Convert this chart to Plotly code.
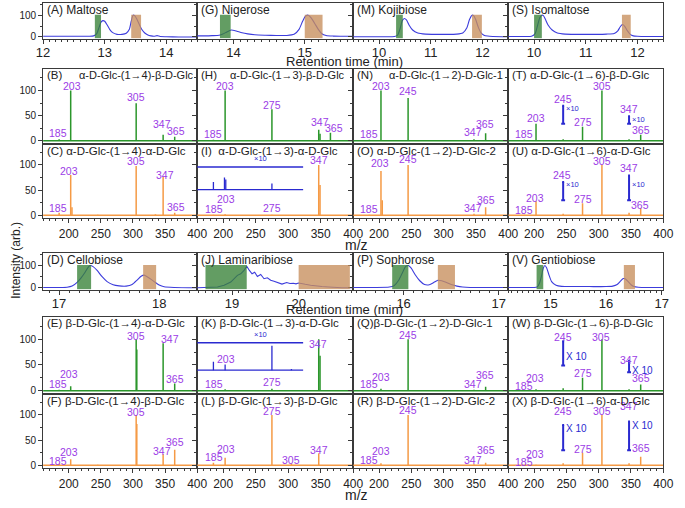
import plotly.graph_objects as go

W, H = 685, 508
FONT = "Liberation Sans, Arial, sans-serif"
PURPLE = "#9b3ce6"
GREEN = "#2b962b"
ORANGE = "#f59a45"
BLUE = "#2a2ad0"
CHROM = "#3c3cdc"
AXC = "#3a3a3a"

# ---------------- chromatogram data (time in min, intensity %) ----------------
maltose_t = [12.0, 12.2, 12.4, 12.6, 12.75, 12.82, 12.87, 12.91, 12.94, 12.97, 13.0, 13.04, 13.08, 13.13, 13.2,
             13.28, 13.35, 13.4, 13.43, 13.46, 13.49, 13.52, 13.56, 13.6, 13.65, 13.7, 13.75, 13.8, 13.85, 13.9,
             14.0, 14.2, 14.5]
maltose_i = [3, 3, 3, 3, 3, 5, 15, 45, 68, 75, 72, 55, 35, 20, 12,
             12, 17, 35, 72, 100, 97, 82, 58, 35, 18, 9, 5, 3, 6, 2,
             1, 0, 0]
nigerose_t = [13.49, 13.6, 13.7, 13.8, 13.85, 13.9, 13.94, 13.97, 14.01, 14.06, 14.12, 14.2, 14.3, 14.45, 14.6,
              14.75, 14.85, 14.92, 14.97, 15.01, 15.05, 15.09, 15.14, 15.19, 15.24, 15.3, 15.4, 15.5, 15.68]
nigerose_i = [5, 5, 6, 8, 13, 22, 29, 32, 30, 25, 19, 14, 10, 8, 7,
              7, 12, 35, 72, 95, 100, 88, 62, 35, 15, 7, 4, 3, 3]
kojibiose_t = [9.5, 9.8, 10.1, 10.3, 10.36, 10.41, 10.45, 10.49, 10.53, 10.58, 10.65, 10.75, 10.9, 11.1,
               11.3, 11.5, 11.62, 11.7, 11.75, 11.8, 11.83, 11.87, 11.92, 11.97, 12.03, 12.1, 12.2, 12.5]
kojibiose_i = [1, 1, 1, 2, 8, 40, 75, 85, 78, 55, 32, 18, 13, 12,
               12, 13, 18, 42, 80, 100, 98, 80, 45, 20, 8, 4, 2, 1]
isomaltose_t = [9.5, 9.8, 9.95, 10.02, 10.07, 10.11, 10.15, 10.18, 10.22, 10.27, 10.35, 10.45, 10.6, 10.8,
                11.0, 11.2, 11.4, 11.55, 11.62, 11.67, 11.71, 11.75, 11.8, 11.86, 11.92, 12.0, 12.2, 12.5]
isomaltose_i = [2, 2, 3, 15, 55, 88, 100, 98, 80, 55, 32, 18, 13, 12,
                12, 12, 13, 16, 28, 48, 57, 50, 30, 12, 5, 3, 2, 2]
cellobiose_t = [16.84, 17.0, 17.08, 17.13, 17.18, 17.22, 17.26, 17.29, 17.31, 17.34, 17.38, 17.43, 17.48, 17.54,
                17.6, 17.67, 17.73, 17.78, 17.82, 17.85, 17.88, 17.92, 17.96, 18.0, 18.05, 18.15, 18.38]
cellobiose_i = [2, 2, 3, 8, 25, 45, 70, 92, 100, 95, 78, 50, 28, 14,
                9, 8, 15, 35, 52, 57, 50, 38, 25, 13, 5, 2, 1]
laminaribiose_t = [18.475, 18.6, 18.78, 18.88, 18.98, 19.08, 19.13, 19.18, 19.22, 19.26, 19.3, 19.34, 19.38,
                   19.43, 19.48, 19.53, 19.58, 19.63, 19.68, 19.75, 19.82, 19.87, 19.92, 19.96, 20.0, 20.05,
                   20.1, 20.18, 20.25, 20.35, 20.45, 20.55, 20.65, 20.82]
laminaribiose_i = [1, 1, 4, 12, 26, 56, 63, 78, 97, 78, 63, 70, 51,
                   60, 41, 45, 34, 30, 24, 17, 24, 20, 21, 18, 22, 18,
                   16, 12, 9, 6, 4, 2, 1, 1]
sophorose_t = [15.47, 15.7, 15.85, 15.9, 15.95, 15.99, 16.02, 16.05, 16.08, 16.12, 16.17, 16.22, 16.27, 16.32,
               16.36, 16.4, 16.45, 16.5, 16.56, 16.62, 16.7, 16.85, 17.1]
sophorose_i = [2, 2, 4, 10, 35, 70, 95, 100, 88, 60, 32, 15, 14, 25,
               34, 32, 24, 15, 8, 4, 2, 2, 2]
gentiobiose_t = [14.24, 14.5, 14.7, 14.76, 14.8, 14.84, 14.87, 14.9, 14.93, 14.97, 15.02, 15.1, 15.2, 15.4,
                 15.7, 16.0, 16.12, 16.2, 16.26, 16.31, 16.35, 16.4, 16.45, 16.5, 16.58, 16.75, 17.03]
gentiobiose_i = [2, 2, 2, 4, 20, 55, 88, 100, 90, 60, 28, 12, 7, 6,
                 6, 6, 8, 15, 30, 42, 40, 28, 14, 6, 3, 2, 2]

# ---------------- mass spectra (m/z, relative intensity) ----------------
B_mz = [185, 203, 305, 347, 365];                 B_int = [3, 100, 75, 12, 8]
H_mz = [185, 203, 275, 347, 349, 365];            H_int = [2, 100, 63, 22, 14, 16]
N_mz = [185, 203, 245, 347, 365];                 N_int = [2, 100, 85, 3, 15]
T_mz = [185, 203, 245, 275, 305, 347, 365];       T_int = [2, 34, 3, 28, 100, 3, 12]
C_mz = [185, 203, 205, 245, 305, 335, 347, 365];  C_int = [5, 80, 16, 1, 98, 2, 76, 5]
I_mz = [185, 203, 275, 347, 349];                 I_int = [1, 2, 1, 100, 60]
O_mz = [185, 203, 205, 245, 347, 365];            O_int = [1, 88, 30, 100, 3, 16]
U_mz = [185, 203, 245, 275, 305, 347, 365];       U_int = [1, 28, 3, 24, 100, 5, 14]
E_mz = [185, 203, 305, 306, 347, 365];            E_int = [2, 9, 100, 80, 92, 14]
K_mz = [185, 203, 275, 347, 349];                 K_int = [2, 3, 4, 100, 68]
Q_mz = [185, 203, 245, 347, 365];                 Q_int = [1, 4, 100, 2, 8]
W_mz = [185, 203, 245, 275, 305, 347, 365];       W_int = [1, 3, 5, 25, 100, 3, 12]
F_mz = [185, 203, 245, 305, 306, 335, 347, 365];  F_int = [3, 12, 1, 100, 82, 1, 22, 31]
L_mz = [185, 203, 275, 305, 347];                 L_int = [5, 15, 100, 3, 24]
R_mz = [185, 203, 245, 347, 365];                 R_int = [1, 4, 100, 2, 5]
X_mz = [185, 203, 245, 275, 305, 347, 365];       X_int = [1, 1, 4, 25, 100, 4, 17]

# x10 magnified insets (I and K): peaks above inset baseline
I_inset_mz = [185, 202, 204, 275];  I_inset_int = [15, 24, 20, 12]
K_inset_mz = [185, 203, 275, 305];  K_inset_int = [16, 11, 47, 2]
# x10 bars: (m/z, bottom, top, label height)
T_bars = [(245, 34, 70, 64), (347, 34, 49, 42)]
U_bars = [(245, 30, 66, 62), (347, 30, 79, 62)]
W_bars = [(245, 49, 96, 67), (347, 36, 58, 40)]
X_bars = [(245, 30, 80, 74), (347, 30, 87, 80)]

# ---------------- layout helpers (pixel coordinates) ----------------
COLS = [(37, 195), (195, 355), (355, 514), (514, 673)]
ROWS = {"cA": (3, 39), "sB": (70, 145), "sC": (145, 220), "cD": (255, 292), "sE": (320, 397), "sF": (397, 472)}

fig = go.Figure()
layout = dict(width=W, height=H, margin=dict(l=0, r=0, t=0, b=0), paper_bgcolor="white",
              plot_bgcolor="white", showlegend=False, font=dict(family=FONT, color="#222"))
annotations = []
shapes = []
counter = [0]


def px(x):
    return x / W


def py(y):
    return 1 - y / H


def new_axes(col, row, xrange, yrange, xdtick, xminor, ydtick, yminor, show_x, xfont, standoff=0):
    counter[0] += 1
    n = counter[0]
    sfx = "" if n == 1 else str(n)
    xa = dict(domain=[px(COLS[col][0]), px(COLS[col][1])], range=xrange, anchor="y" + sfx,
              showline=True, mirror=True, linecolor=AXC, linewidth=1, showgrid=False, zeroline=False,
              ticks="outside" if show_x else "", ticklen=4, tickcolor=AXC, tick0=0, dtick=xdtick,
              showticklabels=show_x, tickfont=dict(size=xfont, color="#222"))
    if show_x:
        xa["minor"] = dict(dtick=xminor, ticks="outside", ticklen=2, tickcolor=AXC)
    if standoff:
        xa["ticklabelstandoff"] = standoff
    ya = dict(domain=[py(ROWS[row][1]), py(ROWS[row][0])], range=yrange, anchor="x" + sfx,
              showline=True, mirror=True, linecolor=AXC, linewidth=1, showgrid=False, zeroline=False,
              ticks="outside", ticklen=4, tickcolor=AXC, tick0=0, dtick=ydtick,
              showticklabels=(col == 0), tickfont=dict(size=10, color="#222"),
              minor=dict(dtick=yminor, ticks="outside", ticklen=2, tickcolor=AXC))
    layout["xaxis" + sfx] = xa
    layout["yaxis" + sfx] = ya
    return "x" + sfx, "y" + sfx


def title(col, row, text, align="left", xpos=None, size=11.5, drop=0):
    x = xpos if xpos is not None else (COLS[col][0] + 2 if align == "left" else COLS[col][1] - 1)
    annotations.append(dict(xref="paper", yref="paper", x=px(x), y=py(ROWS[row][0] - 2 + drop), text=text,
                            showarrow=False, xanchor=align, yanchor="top",
                            font=dict(size=size, color="#222", family=FONT)))


# ---------------- chromatograms ----------------
chroms = [
    ("(A) Maltose", maltose_t, maltose_i, [12, 14.5], (12.84, 12.94), (13.43, 13.59), 0, "cA"),
    ("(G) Nigerose", nigerose_t, nigerose_i, [13.49, 15.68], (13.81, 13.96), (15.0, 15.25), 1, "cA"),
    ("(M) Kojibiose", kojibiose_t, kojibiose_i, [9.5, 12.5], (10.33, 10.46), (11.8, 11.99), 2, "cA"),
    ("(S) Isomaltose", isomaltose_t, isomaltose_i, [9.5, 12.5], (10.0, 10.15), (11.70, 11.87), 3, "cA"),
    ("(D) Cellobiose", cellobiose_t, cellobiose_i, [16.84, 18.38], (17.18, 17.32), (17.84, 17.97), 0, "cD"),
    ("(J) Laminaribiose", laminaribiose_t, laminaribiose_i, [18.475, 20.82], (18.6, 19.22), (20.0, 20.77), 1, "cD"),
    ("(P) Sophorose", sophorose_t, sophorose_i, [15.47, 17.1], (15.88, 16.05), (16.36, 16.54), 2, "cD"),
    ("(V) Gentiobiose", gentiobiose_t, gentiobiose_i, [14.24, 17.03], (14.75, 14.87), (16.32, 16.52), 3, "cD"),
]
for name, t, inten, xr, gbox, obox, col, row in chroms:
    xr_, yr_ = new_axes(col, row, xr, [-8, 156], 1, 0.1, 100, 50, True, 13, standoff=-2)
    shape_line = "linear" if "Laminari" in name else "spline"
    fig.add_trace(go.Scatter(x=t, y=inten, mode="lines", xaxis=xr_, yaxis=yr_, hoverinfo="skip",
                             line=dict(color=CHROM, width=1.1, shape=shape_line, smoothing=0.6)))
    for (b0, b1), fc in ((gbox, "rgba(55,130,55,0.78)"), (obox, "rgba(199,142,92,0.78)")):
        shapes.append(dict(type="rect", xref=xr_, yref=yr_, x0=b0, x1=b1, y0=-6, y1=102,
                           fillcolor=fc, line=dict(width=0), layer="above"))
    title(col, row, name, size=12)

# ---------------- spectra ----------------
spectra = [
    ("B", 0, "sB", B_mz, B_int, GREEN, False),
    ("H", 1, "sB", H_mz, H_int, GREEN, False),
    ("N", 2, "sB", N_mz, N_int, GREEN, False),
    ("T", 3, "sB", T_mz, T_int, GREEN, False),
    ("C", 0, "sC", C_mz, C_int, ORANGE, True),
    ("I", 1, "sC", I_mz, I_int, ORANGE, True),
    ("O", 2, "sC", O_mz, O_int, ORANGE, True),
    ("U", 3, "sC", U_mz, U_int, ORANGE, True),
    ("E", 0, "sE", E_mz, E_int, GREEN, False),
    ("K", 1, "sE", K_mz, K_int, GREEN, False),
    ("Q", 2, "sE", Q_mz, Q_int, GREEN, False),
    ("W", 3, "sE", W_mz, W_int, GREEN, False),
    ("F", 0, "sF", F_mz, F_int, ORANGE, True),
    ("L", 1, "sF", L_mz, L_int, ORANGE, True),
    ("R", 2, "sF", R_mz, R_int, ORANGE, True),
    ("X", 3, "sF", X_mz, X_int, ORANGE, True),
]

# peak label placement (text, x in m/z, y centre in intensity units)
LABELS = {
    "B": [("185", 184, 16), ("203", 205, 110), ("305", 305, 87), ("347", 345, 33), ("365", 367, 19)],
    "H": [("185", 185, 14), ("203", 203, 110), ("275", 275, 71), ("347", 349, 37), ("365", 370, 26)],
    "N": [("185", 184, 14), ("203", 203, 110), ("245", 245, 99), ("347", 346, 18), ("365", 364, 33)],
    "T": [("185", 184, 14), ("203", 203, 46), ("245", 245, 84), ("275", 276, 37), ("305", 305, 110),
          ("347", 347, 63), ("365", 365, 22)],
    "C": [("185", 184, 15), ("203", 200, 89), ("305", 305, 107), ("347", 350, 80), ("365", 367, 17)],
    "I": [("185", 186, 13), ("203", 204, 32), ("275", 275, 14), ("347", 347, 109)],
    "O": [("185", 184, 12), ("203", 202, 103), ("245", 245, 111), ("347", 346, 15), ("365", 365, 30)],
    "U": [("185", 184, 10), ("203", 201, 35), ("245", 243, 81), ("275", 276, 33), ("305", 305, 107),
          ("347", 347, 93), ("365", 364, 20)],
    "E": [("185", 183, 14), ("203", 201, 32), ("305", 305, 107), ("347", 357, 100), ("365", 366, 22)],
    "K": [("185", 186, 14), ("203", 204, 62), ("275", 275, 17), ("347", 346, 91)],
    "Q": [("185", 184, 14), ("203", 203, 27), ("245", 245, 109), ("347", 346, 13), ("365", 364, 30)],
    "W": [("185", 184, 9), ("203", 201, 25), ("245", 244, 104), ("275", 276, 34), ("305", 304, 104),
          ("347", 347, 59), ("365", 365, 25)],
    "F": [("185", 184, 9), ("203", 201, 26), ("305", 305, 105), ("347", 345, 28), ("365", 366, 46)],
    "L": [("185", 186, 16), ("203", 204, 32), ("275", 275, 108), ("305", 305, 11), ("347", 347, 30)],
    "R": [("185", 184, 11), ("203", 203, 28), ("245", 245, 110), ("347", 346, 11), ("365", 365, 31)],
    "X": [("185", 184, 6), ("203", 202, 23), ("245", 244, 107), ("275", 276, 32), ("305", 305, 107),
          ("347", 347, 118), ("365", 365, 34)],
}

TITLES = {
    "B": ("(B)", "α-D-Glc-(1→4)-β-D-Glc", 194),
    "H": ("(H)", "α-D-Glc-(1→3)-β-D-Glc", 349),
    "N": ("(N)", "α-D-Glc-(1→2)-D-Glc-1", 511),
    "T": ("(T) α-D-Glc-(1→6)-β-D-Glc", None, None),
    "C": ("(C) α-D-Glc-(1→4)-α-D-Glc", None, None),
    "I": ("(I)  α-D-Glc-(1→3)-α-D-Glc", None, None),
    "O": ("(O) α-D-Glc-(1→2)-D-Glc-2", None, None),
    "U": ("(U) α-D-Glc-(1→6)-α-D-Glc", None, None),
    "E": ("(E) β-D-Glc-(1→4)-α-D-Glc", None, None),
    "K": ("(K) β-D-Glc-(1→3)-α-D-Glc", None, None),
    "Q": ("(Q)β-D-Glc-(1→2)-D-Glc-1", None, None),
    "W": ("(W) β-D-Glc-(1→6)-β-D-Glc", None, None),
    "F": ("(F) β-D-Glc-(1→4)-β-D-Glc", None, None),
    "L": ("(L) β-D-Glc-(1→3)-β-D-Glc", None, None),
    "R": ("(R) β-D-Glc-(1→2)-D-Glc-2", None, None),
    "X": ("(X) β-D-Glc-(1→6)-α-D-Glc", None, None),
}

INSETS = {"I": (I_inset_mz, I_inset_int, 51, 96), "K": (K_inset_mz, K_inset_int, 40, 93)}
BARS = {"T": (T_bars, "×10", 7.5), "U": (U_bars, "×10", 7.5), "W": (W_bars, "X 10", 10), "X": (X_bars, "X 10", 10)}

for key, col, row, mz, inten, color, show_x in spectra:
    xr_, yr_ = new_axes(col, row, [160, 400], [-6, 142], 50, 10, 50, 25, show_x, 12)
    xs, ys = [160, 400, None], [0, 0, None]
    for m, v in zip(mz, inten):
        xs += [m, m, None]
        ys += [0, v, None]
    fig.add_trace(go.Scatter(x=xs, y=ys, mode="lines", xaxis=xr_, yaxis=yr_, hoverinfo="skip",
                             line=dict(color=color, width=1.5)))
    for txt, lx, ly in LABELS[key]:
        annotations.append(dict(xref=xr_, yref=yr_, x=lx, y=ly, text=txt, showarrow=False,
                                xanchor="center", yanchor="middle",
                                font=dict(size=10.5, color=PURPLE, family=FONT)))
    left, name, right = TITLES[key]
    drop = 1 if row in ("sC", "sF") else 0
    title(col, row, left, drop=drop)
    if name:
        title(col, row, name, align="right", xpos=right, size=11, drop=drop)
    if key in INSETS:
        imz, iint, low, top = INSETS[key]
        bx, by = [160, 323, None, 160, 323, None], [top, top, None, low, low, None]
        for m, v in zip(imz, iint):
            bx += [m, m, None]
            by += [low, low + v, None]
        fig.add_trace(go.Scatter(x=bx, y=by, mode="lines", xaxis=xr_, yaxis=yr_, hoverinfo="skip",
                                 line=dict(color=BLUE, width=1.3)))
        annotations.append(dict(xref=xr_, yref=yr_, x=258, y=top + 3, text="×10", showarrow=False,
                                yanchor="bottom", font=dict(size=7.5, color=BLUE, family=FONT)))
    if key in BARS:
        bars, btxt, bsize = BARS[key]
        bx, by = [], []
        for m, b0, b1, ly in bars:
            bx += [m, m, None, m - 3, m + 3, None, m - 1.5, m + 1.5, None]
            by += [b0, b1, None, b0, b0, None, b1, b1, None]
            annotations.append(dict(xref=xr_, yref=yr_, x=m + 2, y=ly, text=btxt,
                                    showarrow=False, xanchor="left", yanchor="middle",
                                    font=dict(size=bsize, color=BLUE, family=FONT)))
        fig.add_trace(go.Scatter(x=bx, y=by, mode="lines", xaxis=xr_, yaxis=yr_, hoverinfo="skip",
                                 line=dict(color=BLUE, width=2)))

# ---------------- axis titles ----------------
for yy in (62, 312):
    annotations.append(dict(xref="paper", yref="paper", x=px(346), y=py(yy), text="Retention time (min)",
                            xanchor="center", yanchor="middle", showarrow=False,
                            font=dict(size=13, color="#222", family=FONT)))
for yy in (247, 499):
    annotations.append(dict(xref="paper", yref="paper", x=px(358), y=py(yy), text="m/z",
                            xanchor="center", yanchor="middle", showarrow=False,
                            font=dict(size=14, color="#222", family=FONT)))
annotations.append(dict(xref="paper", yref="paper", x=px(9), y=py(262), text="Intensity (arb.)",
                        xanchor="center", yanchor="middle", textangle=-90, showarrow=False,
                        font=dict(size=12, color="#222", family=FONT)))

layout["annotations"] = annotations
layout["shapes"] = shapes
fig.update_layout(**layout)
fig.write_html("out.html", config={"displayModeBar": False},
               post_script="document.body.style.margin='0px';document.body.style.overflow='hidden';")
